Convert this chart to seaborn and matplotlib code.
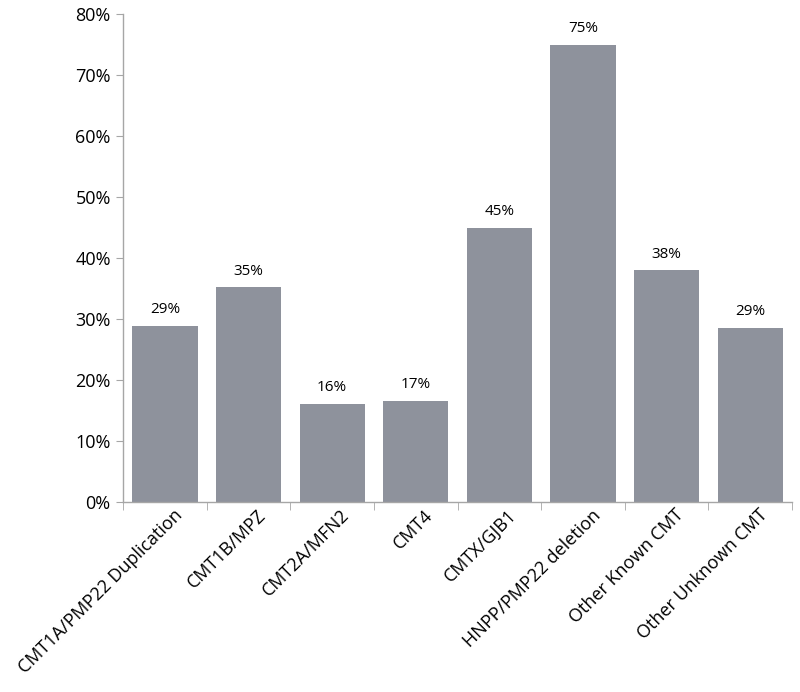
import matplotlib
matplotlib.use("Agg")
import matplotlib.pyplot as plt
import numpy as np
import pandas as pd
import seaborn as sns
from matplotlib.ticker import PercentFormatter, FixedLocator

# Data
categories = [
    "CMT1A/PMP22 Duplication",
    "CMT1B/MPZ",
    "CMT2A/MFN2",
    "CMT4",
    "CMTX/GJB1",
    "HNPP/PMP22 deletion",
    "Other Known CMT",
    "Other Unknown CMT",
]
shares = [0.289, 0.352, 0.161, 0.166, 0.450, 0.750, 0.380, 0.286]

bar_color = "#8E929C"
axis_color = "#A6A6A6"

sns.set_style("white")
plt.rcParams["font.family"] = ["Open Sans", "DejaVu Sans"]
plt.rcParams["text.color"] = "black"
plt.rcParams["xtick.color"] = "black"
plt.rcParams["ytick.color"] = "black"

df = pd.DataFrame({"Category": categories, "Share": shares})

fig = plt.figure(figsize=(8, 6.92), dpi=100)
ax = fig.add_axes([0.154, 0.2746, 0.836, 0.705])

sns.barplot(data=df, x="Category", y="Share", color=bar_color, width=0.78,
            saturation=1, linewidth=0, ax=ax)

ax.set_ylim(0, 0.8)
ax.set_xlim(-0.5, len(categories) - 0.5)
ax.yaxis.set_major_locator(FixedLocator(np.arange(0, 0.81, 0.1)))
ax.yaxis.set_major_formatter(PercentFormatter(1.0, decimals=0))

# Rounded percentage labels above each bar
ax.bar_label(ax.containers[0], labels=[f"{v * 100:.0f}%" for v in shares],
             padding=6, fontsize=11)

ax.set_xlabel("")
ax.set_ylabel("")

sns.despine(ax=ax)
for side in ["left", "bottom"]:
    ax.spines[side].set_color(axis_color)
    ax.spines[side].set_linewidth(1.0)

ax.tick_params(axis="y", direction="out", length=5, color=axis_color,
               labelsize=13, left=True, pad=4)
ax.tick_params(axis="x", which="major", length=0, labelsize=13, pad=3)
ax.set_xticks(np.arange(-0.5, len(categories), 1.0), minor=True)
ax.tick_params(axis="x", which="minor", direction="out", length=6,
               color=axis_color, bottom=True)
for lbl in ax.get_xticklabels():
    lbl.set_rotation(45)
    lbl.set_ha("right")
    lbl.set_rotation_mode("anchor")
    lbl.set_x(lbl.get_position()[0])
# nudge labels slightly right of the bar centres, as in the reference
offset = matplotlib.transforms.ScaledTranslation(6 / 72, 0, fig.dpi_scale_trans)
for lbl in ax.get_xticklabels():
    lbl.set_transform(lbl.get_transform() + offset)

fig.savefig("out.png", dpi=100)
plt.close(fig)
